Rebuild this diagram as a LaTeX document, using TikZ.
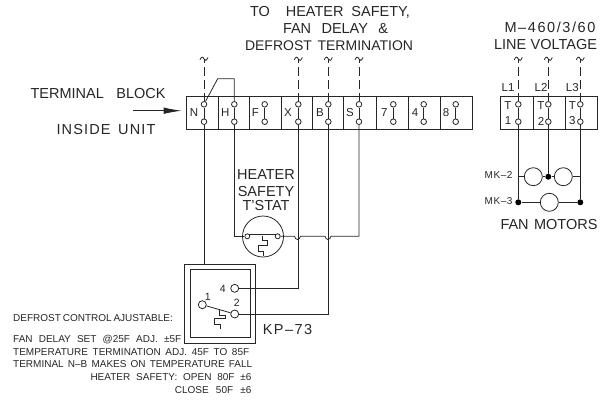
\documentclass[tikz,border=0pt]{standalone}
\usepackage{fontspec}
\setmainfont{Liberation Sans}
\usepackage{tikz}
\usetikzlibrary{arrows.meta, positioning, calc}

\tikzset{
    wire/.style={line width=0.8pt, black!85},
    feed/.style={line width=0.8pt, black!85, dash pattern=on 9pt off 4pt},
    cell/.style={draw, line width=0.8pt, black!85, minimum height=32.6pt, inner sep=0pt},
    post/.style={circle, draw, line width=0.8pt, black!85, fill=white, inner sep=0pt, minimum size=5.6pt},
    port/.style={post, minimum size=8pt},
    junction/.style={circle, fill=black, inner sep=0pt, minimum size=6pt},
    motor/.style={circle, draw, line width=0.8pt, black!85, inner sep=0pt, minimum size=18pt},
    cadbig/.style={inner sep=0pt, text=black!85, font=\fontsize{14.5}{14.5}\selectfont},
    cadmid/.style={inner sep=0pt, text=black!85, font=\fontsize{11.5}{11.5}\selectfont},
    cadnum/.style={inner sep=0pt, text=black!85, font=\fontsize{10.5}{10.5}\selectfont},
    cadsmall/.style={inner sep=0pt, text=black!85, font=\fontsize{10}{10}\selectfont},
}
\newcommand{\spreadto}[2]{\hbox to #1pt{#2}}
\newcommand{\tildemark}[1]{%
    \draw[wire] ($(#1)+(-4,0.8)$) .. controls ($(#1)+(-2.6,-2.8)$) and ($(#1)+(-1,-2.4)$) .. ($(#1)+(0,0)$)
        .. controls ($(#1)+(1,2.4)$) and ($(#1)+(2.6,1.8)$) .. ($(#1)+(4,-1.6)$);
    \draw[wire] ($(#1)+(0,0)$) -- ($(#1)+(0,4)$);
}

\begin{document}
\begin{tikzpicture}[x=1pt,y=-1pt]
    \useasboundingbox (0,0) rectangle (609,400);

    % Terminal block cells
    \foreach \name/\xa/\xb/\lab/\lx in {N/186.5/218/N/194, H/218/249.3/H/225.3, F/249.3/281.7/F/255.3,
        X/281.7/312.7/X/288, B/312.7/343.7/B/320, S/343.7/376/S/350,
        seven/376/408.3/7/384.3, four/408.3/440/4/415, eight/440/472.7/8/446} {
        \node[cell, minimum width={(\xb-\xa)*1pt}] (cell\name) at ({(\xa+\xb)/2},113) {};
        \node[cadmid] (lab\name) at (\lx,113) {\lab};
    }

    % Terminal posts and links
    \foreach \name/\xa in {N/204, H/234.3, F/264.7, X/298.3, B/328.3, S/359, seven/393.3, four/423.7, eight/455.7} {
        \node[post] (\name t) at (\xa,104.3) {};
        \node[post] (\name b) at (\xa,121.7) {};
        \draw[wire] (\name t) -- (\name b);
    }

    % Jumper N to H
    \coordinate (jump) at (217.7,78.7);
    \draw[wire] (Nt) -- (jump) -- (jump -| Ht) -- (Ht);

    % Line block
    \foreach \name/\xa/\xb/\xc/\lab/\tx in {A/500.7/533.3/518.3/1/508, C/533.3/565.3/548.3/2/541, E/565.3/597.7/580.3/3/572.3} {
        \node[cell, minimum width={(\xb-\xa)*1pt}] (cell\name) at ({(\xa+\xb)/2},113) {};
        \node[cadmid] (lab\name t) at (\tx,105.7) {T};
        \node[cadmid] (lab\name b) at (\tx,121) {\lab};
        \node[post] (\name t) at (\xc,104.3) {};
        \node[post] (\name b) at (\xc,121.7) {};
        \draw[wire] (\name t) -- (\name b);
        \node[cadmid] (line\name) at ({\tx},87.7) {L\lab};
    }

    % Dashed feeds with tilde marks
    \foreach \name in {N, X, B, S, A, C, E} {
        \coordinate (tilde\name) at (\name t |- 0,59);
        \tildemark{tilde\name}
        \draw[feed] (\name t |- 0,67) -- (\name t);
    }

    % Arrow to block
    \coordinate (arrowstart) at (133,110.7);
    \draw[wire, shorten >=4.5pt, -{Latex[length=18pt,width=6.5pt]}] (arrowstart) -- (arrowstart -| cellN.west);

    % Heater safety t'stat
    \node[motor, minimum size=41pt] (stat) at (263,236.5) {};
    \node[post, minimum size=5pt] (statl) at (247.3,236.3) {};
    \node[post, minimum size=5pt] (statr) at (277.7,236.3) {};
    \draw[wire] (statl.north east) -- (statr.north west);
    \draw[wire] (Hb) -- (Hb |- statl) -- (statl);
    \draw[wire] (262.7,235.5) -- (262.7,240.7) -- (267.7,240.7) -- (267.7,245.3) -- (258,245.3) -- (258,251) -- (263.3,251) -- (263.3,256);
    \draw[wire] (statr) -- (294.5,236.3) .. controls (295.5,240.5) and (299.5,240.5) .. (300.5,236.3)
        -- (325,236.3) .. controls (326,240.5) and (330,240.5) .. (331,236.3)
        -- (Sb |- statr) -- (Sb);

    % KP-73 control
    \node[draw, line width=0.8pt, black!85, minimum width=70.3pt, minimum height=79pt, inner sep=0pt] (kpouter) at (219.85,303.5) {};
    \node[draw, line width=0.8pt, black!85, minimum width=59.7pt, minimum height=68pt, inner sep=0pt] (kpinner) at (220.15,303.3) {};
    \node[port] (kpone) at (202.3,304.7) {};
    \node[port] (kpfour) at (234.7,288.3) {};
    \node[port] (kptwo) at (234.7,314) {};
    \draw[wire] (kpone) -- (kptwo);
    \draw[wire] (219.3,309) -- (219.3,315) -- (225.3,315) -- (225.3,318.3) -- (214.3,318.3) -- (214.3,324) -- (220.7,324) -- (220.7,329);
    \draw[wire] (Nb) -- (Nb |- kpouter.north);
    \draw[wire] (Xb) -- (Xb |- kpfour) -- (kpfour);
    \draw[wire] (Bb) -- (Bb |- kptwo) -- (kptwo);
    \node[cadnum] (kpnum1) at (207.7,296.7) {1};
    \node[cadnum] (kpnum2) at (236.7,303) {2};
    \node[cadnum] (kpnum4) at (222.7,288.6) {4};

    % Fan motors
    \node[motor] (mka) at (533.3,176.7) {};
    \node[motor] (mkb) at (563.3,176.7) {};
    \node[motor] (mkc) at (549.3,202.3) {};
    \node[junction] (mid) at (548.3,176.7) {};
    \node[junction] (lft) at (518.3,202.3) {};
    \node[junction] (rgt) at (580.3,202.3) {};
    \draw[wire] (Ab) -- (lft);
    \draw[wire] (Cb) -- (mid);
    \draw[wire] (Eb) -- (rgt);
    \draw[wire] (mka -| Ab) -- (mka);
    \draw[wire] (mka) -- (mid) -- (mkb) -- (mkb -| Eb);
    \draw[wire] (lft) -- (mkc) -- (rgt);
    \node[cadsmall, anchor=east] (mktwo) at (512.7,175) {\addfontfeature{LetterSpace=6}MK–2};
    \node[cadsmall, anchor=east] (mkthree) at (512.7,201) {\addfontfeature{LetterSpace=6}MK–3};

    % Labels
    \node[cadbig] (toptitle) at (330,12) {\spreadto{160}{TO\hspace{8pt plus 1fil} HEATER\hspace{0pt plus 1fil} SAFETY,}};
    \node[cadbig] (midtitle) at (335.5,29) {\spreadto{105}{FAN DELAY \&}};
    \node[cadbig, font=\fontsize{14}{14}\selectfont] (bottitle) at (329,46) {\spreadto{168}{DEFROST TERMINATION}};
    \node[cadbig] (volttitle) at (550,27) {\addfontfeature{LetterSpace=11}M–460/3/60};
    \node[cadbig] (linetitle) at (545.5,45) {\spreadto{103}{LINE VOLTAGE}};
    \node[cadbig] (blocktitle) at (98,94) {\spreadto{135}{TERMINAL BLOCK}};
    \node[cadbig] (unittitle) at (106,130) {\addfontfeature{LetterSpace=8}\spreadto{99}{INSIDE UNIT}};
    \node[cadbig] (fantitle) at (549,224) {\spreadto{97}{FAN MOTORS}};
    \node[cadbig] (heatone) at (266,175) {HEATER};
    \node[cadbig] (heattwo) at (266,191.7) {SAFETY};
    \node[cadbig] (heatthree) at (266,206) {T'STAT};
    \node[cadbig] (kplabel) at (287.5,329) {\addfontfeature{LetterSpace=10}KP–73};

    % Notes
    \node[cadsmall, anchor=west] (noteone) at (13,318.3) {\spreadto{158.7}{DEFROST CONTROL AJUSTABLE:}};
    \node[cadsmall, anchor=west] (notetwo) at (13,339.3) {\spreadto{168}{FAN DELAY SET @25F ADJ. ±5F}};
    \node[cadsmall, anchor=west] (notethree) at (13,351.7) {\spreadto{236}{TEMPERATURE TERMINATION ADJ. 45F TO 85F}};
    \node[cadsmall, anchor=west] (notefour) at (13,364.3) {\spreadto{239}{TERMINAL N–B MAKES ON TEMPERATURE FALL}};
    \node[cadsmall, anchor=east] (notefive) at (251.7,377.3) {\spreadto{161}{HEATER SAFETY: OPEN 80F ±6}};
    \node[cadsmall, anchor=east] (notesix) at (251.7,390.3) {\spreadto{76.7}{CLOSE 50F ±6}};
\end{tikzpicture}
\end{document}
